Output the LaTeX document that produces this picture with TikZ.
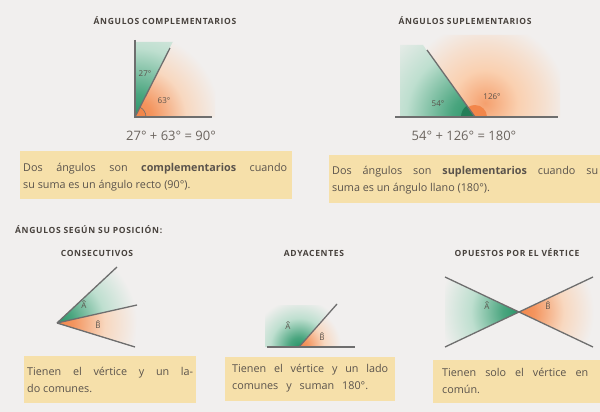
\documentclass[tikz,border=0pt]{standalone}
\usepackage{fontspec}
\setmainfont{Open Sans}
\usetikzlibrary{calc}
\definecolor{bg}{HTML}{F1EFEE}
\definecolor{boxc}{HTML}{F6E0AA}
\definecolor{ln}{HTML}{6E6E6E}
\definecolor{gr}{HTML}{2A9468}
\definecolor{grl}{HTML}{A8D8C2}
\definecolor{orc}{HTML}{F2864A}
\definecolor{orl}{HTML}{FAD0B0}
\definecolor{txt}{HTML}{5A534C}
\pgfdeclareradialshading{gfade}{\pgfpoint{0bp}{0bp}}{color(0bp)=(gr); color(5bp)=(gr!75!grl); color(15bp)=(grl!70!bg); color(25bp)=(bg); color(50bp)=(bg)}
\pgfdeclareradialshading{ofade}{\pgfpoint{0bp}{0bp}}{color(0bp)=(orc); color(5bp)=(orc!80!orl); color(15bp)=(orl!75!bg); color(25bp)=(bg); color(50bp)=(bg)}
\pgfdeclareradialshading{ofadelight}{\pgfpoint{0bp}{0bp}}{color(0bp)=(orc!65!orl); color(10bp)=(orl); color(18bp)=(orl!50!bg); color(25bp)=(bg); color(50bp)=(bg)}
\begin{document}
\begin{tikzpicture}[x=1pt,y=-1pt,
  ray/.style={draw=ln, line width=1.3pt},
  titletext/.style={font=\fontsize{8.5}{10}\selectfont\bfseries\addfontfeature{LetterSpace=8}, text=txt!80!black, inner sep=0},
  lbl/.style={font=\fontsize{8}{9}\selectfont, text=txt, inner sep=0},
  hatmark/.style={draw=txt, line width=0.45pt},
  eqtext/.style={font=\fontsize{13}{15}\selectfont, text=txt!90, inner sep=0},
  infobox/.style={fill=boxc},
  btext/.style={font=\fontsize{10.8}{17}\selectfont, text=txt, inner sep=0, anchor=base west}]
\useasboundingbox (0,0) rectangle (600,412);
\fill[bg] (0,0) rectangle (600,412);

% ---------- complementarios ----------
\node[titletext] (tc) at (165,21) {ÁNGULOS COMPLEMENTARIOS};
\coordinate (V1) at (135,117);
\coordinate (T1) at (135,40);
\coordinate (H1) at (212,117);
\coordinate (R1) at (170,48);
\begin{scope}
  \clip (V1) -- (135,42) -- (173,42) -- cycle;
  \shade[shading=gfade] (V1) circle[radius=115];
\end{scope}
\begin{scope}
  \clip (V1) -- (174,40) -- (215,40) -- (215,117) -- cycle;
  \shade[shading=ofade] (V1) circle[radius=85];
\end{scope}
\fill[orc] (V1) -- ++(11,0) arc[start angle=0, end angle=-63.4, radius=11] -- cycle;
\draw[ln, line width=0.6pt] (V1) ++(11,0) arc[start angle=0, end angle=-63.4, radius=11];
\draw[ray] (T1) -- (V1) -- (H1);
\draw[ray] (V1) -- (R1);
\node[lbl] (l27) at (145,74) {27°};
\node[lbl] (l63) at (164,101) {63°};
\node[eqtext] (e1) at (171,136) {27° + 63° = 90°};
\fill[infobox] (20,151) rectangle (292,199);
\node[btext] (b1a) at (23,171) {\makebox[264pt][s]{Dos ángulos son \textbf{complementarios} cuando}};
\node[btext] (b1b) at (23,188) {su suma es un ángulo recto (90°).};

% ---------- suplementarios ----------
\node[titletext] (ts) at (465,21) {ÁNGULOS SUPLEMENTARIOS};
\coordinate (V2) at (475,117);
\coordinate (L2) at (395,117);
\coordinate (H2) at (558,117);
\coordinate (R2) at (427,50);
\begin{scope}
  \clip (V2) -- (400,117) -- (400,45) -- (423,45) -- cycle;
  \shade[shading=gfade] (V2) circle[radius=115];
\end{scope}
\begin{scope}
  \clip (V2) -- (416,35) -- (560,35) -- (560,117) -- cycle;
  \shade[shading=ofadelight] (485,103) circle[radius=82];
\end{scope}
\fill[gr!85!black] (V2) -- ++(-14,0) arc[start angle=-180, end angle=-125.6, radius=14] -- cycle;
\fill[orc] (V2) -- ++(12,0) arc[start angle=0, end angle=-125.6, radius=12] -- cycle;
\draw[ray] (L2) -- (H2);
\draw[ray] (V2) -- (R2);
\node[lbl] (l54) at (438,104) {54°};
\node[lbl] (l126) at (492,97) {126°};
\node[eqtext] (e2) at (464,136) {54° + 126° = 180°};
\fill[infobox] (329,155) rectangle (600,203);
\node[btext] (b2a) at (332,174) {\makebox[266pt][s]{Dos ángulos son \textbf{suplementarios} cuando su}};
\node[btext] (b2b) at (332,191) {suma es un ángulo llano (180°).};

% ---------- posicion ----------
\node[titletext, anchor=west] (tp) at (15,230) {ÁNGULOS SEGÚN SU POSICIÓN:};

% consecutivos
\node[titletext] (tcons) at (97,253) {CONSECUTIVOS};
\coordinate (V3) at (57,323);
\coordinate (A3) at (117,267);
\coordinate (B3) at (137,305);
\coordinate (C3) at (135,347);
\begin{scope}
  \clip (V3) -- (A3) -- (137,305) -- cycle;
  \shade[shading=gfade] (V3) circle[radius=80];
\end{scope}
\begin{scope}
  \clip (V3) -- (B3) -- (C3) -- cycle;
  \shade[shading=ofade] (V3) circle[radius=80];
\end{scope}
\draw[ray] (V3) -- (A3);
\draw[ray] (V3) -- (B3);
\draw[ray] (V3) -- (C3);
\node[lbl] (la3) at (84,306) {A};
\draw[hatmark] ($(la3.north)+(-1.6,-1)$) -- ++(1.6,-1.6) -- ++(1.6,1.6);
\node[lbl] (lb3) at (98,326) {B};
\draw[hatmark] ($(lb3.north)+(-1.6,-1)$) -- ++(1.6,-1.6) -- ++(1.6,1.6);
\fill[infobox] (24,356) rectangle (196,403);
\node[btext] (b3a) at (27,375) {\makebox[166pt][s]{Tienen el vértice y un la-}};
\node[btext] (b3b) at (27,392) {do comunes.};

% adyacentes
\node[titletext] (tady) at (314,253) {ADYACENTES};
\coordinate (V4) at (299,347);
\coordinate (L4) at (267,347);
\coordinate (H4) at (355,347);
\coordinate (R4) at (337,304);
\begin{scope}
  \clip (V4) -- (265,347) -- (265,305) -- (334,305) -- cycle;
  \shade[shading=gfade] (V4) circle[radius=48];
\end{scope}
\begin{scope}
  \clip (V4) -- (339,302) -- (350,302) -- (350,347) -- cycle;
  \shade[shading=ofade] (V4) circle[radius=42];
\end{scope}
\draw[ray] (L4) -- (H4);
\draw[ray] (V4) -- (R4);
\node[lbl] (la4) at (288,327) {A};
\draw[hatmark] ($(la4.north)+(-1.6,-1)$) -- ++(1.6,-1.6) -- ++(1.6,1.6);
\node[lbl] (lb4) at (322,338) {B};
\draw[hatmark] ($(lb4.north)+(-1.6,-1)$) -- ++(1.6,-1.6) -- ++(1.6,1.6);
\fill[infobox] (225,357) rectangle (395,401);
\node[btext] (b4a) at (232,372) {\makebox[156pt][s]{Tienen el vértice y un lado}};
\node[btext] (b4b) at (232,389) {\makebox[136pt][s]{comunes y suman 180°.}};

% opuestos
\node[titletext] (top) at (517,253) {OPUESTOS POR EL VÉRTICE};
\coordinate (P1) at (445,277);
\coordinate (P2) at (593,347);
\coordinate (Q1) at (445,347);
\coordinate (Q2) at (593,277);
\coordinate (V5) at (519,312);
\begin{scope}
  \clip (V5) -- (445,277) -- (445,347) -- cycle;
  \shade[shading=gfade] (V5) circle[radius=80];
\end{scope}
\begin{scope}
  \clip (V5) -- (593,277) -- (593,347) -- cycle;
  \shade[shading=ofade] (V5) circle[radius=75];
\end{scope}
\draw[ray] (P1) -- (P2);
\draw[ray] (Q1) -- (Q2);
\node[lbl] (la5) at (487,307) {A};
\draw[hatmark] ($(la5.north)+(-1.6,-1)$) -- ++(1.6,-1.6) -- ++(1.6,1.6);
\node[lbl] (lb5) at (548,307) {B};
\draw[hatmark] ($(lb5.north)+(-1.6,-1)$) -- ++(1.6,-1.6) -- ++(1.6,1.6);
\fill[infobox] (433,360) rectangle (600,403);
\node[btext] (b5a) at (442,376) {\makebox[146pt][s]{Tienen solo el vértice en}};
\node[btext] (b5b) at (442,393) {común.};
\end{tikzpicture}
\end{document}
